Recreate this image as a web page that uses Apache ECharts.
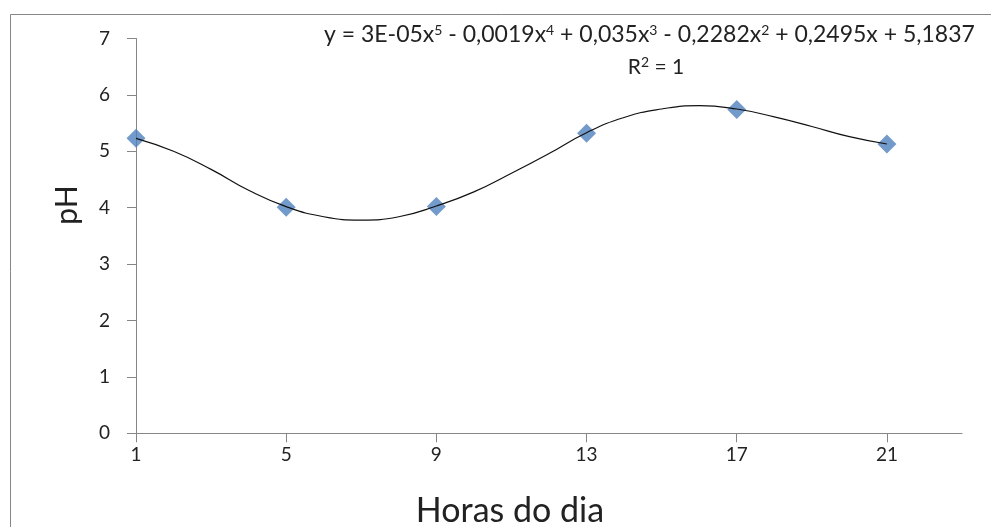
<!DOCTYPE html>
<html><head><meta charset="utf-8">
<script src="https://cdn.jsdelivr.net/npm/echarts@6/dist/echarts.min.js"></script>
<style>html,body{margin:0;padding:0;background:#fff}#c{width:991px;height:527px}</style>
</head><body><div id="c"></div>
<script>
// Observed data (hours of day vs pH)
const hours = [1, 5, 9, 13, 17, 21];
const phValues = [5.23, 4.01, 4.02, 5.32, 5.74, 5.13];
// Trendline (5th-order polynomial), hourly
const trendHours = [1, 2, 3, 4, 5, 6, 7, 8, 9, 10, 11, 12, 13, 14, 15, 16, 17, 18, 19, 20, 21];
const trendValues = [5.23, 5.0, 4.68, 4.31, 4.02, 3.84, 3.78, 3.84, 4.03, 4.28, 4.61, 4.96, 5.33, 5.6, 5.75, 5.81, 5.75, 5.61, 5.44, 5.26, 5.13];
const xTicks = [1, 5, 9, 13, 17, 21];
const yTicks = [0, 1, 2, 3, 4, 5, 6, 7];
const xTitle = 'Horas do dia';
const yTitle = 'pH';

const FONT = 'Lato, "Open Sans", sans-serif';
const chart = echarts.init(document.getElementById('c'));
const axisGray = '#868686';
chart.setOption({
  animation: false,
  backgroundColor: '#fff',
  grid: { left: 136, right: 29, top: 38.5, bottom: 93.7 },
  xAxis: {
    type: 'value', min: xTicks[0], max: 23,
    axisLine: { show: true, onZero: false, lineStyle: { color: axisGray, width: 1 } },
    axisTick: { show: true, length: 9, inside: false, customValues: xTicks, lineStyle: { color: axisGray } },
    axisLabel: { customValues: xTicks, margin: 12, color: '#222', fontSize: 19, fontFamily: FONT },
    splitLine: { show: false }
  },
  yAxis: {
    type: 'value', min: yTicks[0], max: yTicks[yTicks.length - 1], interval: 1,
    axisLine: { show: true, lineStyle: { color: axisGray, width: 1 } },
    axisTick: { show: true, length: 9, lineStyle: { color: axisGray } },
    axisLabel: { margin: 26, color: '#222', fontSize: 19, fontFamily: FONT },
    splitLine: { show: false }
  },
  graphic: [
    { type: 'rect', left: 8, top: 12, shape: { width: 1100, height: 700 }, style: { fill: 'none', stroke: axisGray, lineWidth: 1 }, z: -1 },
    { type: 'text', x: 510, y: 511, style: { text: xTitle, font: '34px ' + FONT, fill: '#222', align: 'center', verticalAlign: 'middle' } },
    { type: 'text', x: 67, y: 205, rotation: Math.PI / 2, style: { text: yTitle, font: '30px ' + FONT, fill: '#222', align: 'center', verticalAlign: 'middle' } },
    { type: 'text', left: 324, top: 23, style: {
      text: 'y = 3E-05x{s|5} - 0,0019x{s|4} + 0,035x{s|3} - 0,2282x{s|2} + 0,2495x + 5,1837',
      font: '23px ' + FONT, fill: '#222',
      rich: { s: { fontSize: 14, padding: [0, 0, 9, 0], fontFamily: FONT, fill: '#222' } }
    } },
    { type: 'text', x: 656, y: 67, style: {
      text: 'R{s|2} = 1', font: '21px ' + FONT, fill: '#222', align: 'center', verticalAlign: 'middle',
      rich: { s: { fontSize: 14, padding: [0, 0, 9, 0], fontFamily: FONT, fill: '#222' } }
    } }
  ],
  series: [
    { type: 'line', data: trendHours.map((h, i) => [h, trendValues[i]]), smooth: true, showSymbol: false,
      lineStyle: { color: '#111', width: 1.2 }, z: 3 },
    { type: 'scatter', data: hours.map((h, i) => [h, phValues[i]]), symbol: 'diamond', symbolSize: 19,
      itemStyle: { color: '#4F81BD' }, z: 2 }
  ]
});
</script></body></html>
